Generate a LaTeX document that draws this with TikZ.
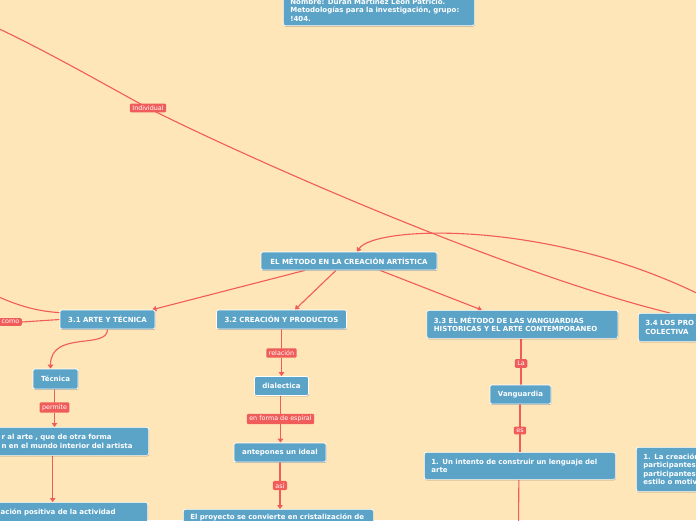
\documentclass[tikz,border=0pt]{standalone}
\usepackage{fontspec}
\setmainfont{DejaVu Sans}
\usetikzlibrary{arrows.meta,shadows}
\definecolor{bgc}{HTML}{FFE6B8}
\definecolor{nb}{HTML}{5BA4C8}
\definecolor{lr}{HTML}{F05C5A}
\pgfdeclarelayer{back}
\pgfdeclarelayer{lines}
\pgfsetlayers{back,lines,main}
\tikzset{
 box/.style={rectangle, rounded corners=2pt, fill=nb, draw=white, line width=0.7pt, text=white,
   font=\bfseries\fontsize{7}{8.5}\selectfont, inner xsep=7pt, inner ysep=4.5pt,
   drop shadow={shadow xshift=0.4pt, shadow yshift=-0.9pt, opacity=0.3, fill=black}},
 lbl/.style={rectangle, rounded corners=1.2pt, fill=lr, text=white,
   font=\fontsize{6.4}{7.5}\selectfont, inner xsep=2.5pt, inner ysep=2pt},
 con/.style={draw=lr, line width=1.1pt},
 arr/.style={con, -{Triangle[width=5.5pt,length=4pt]}},
}
\begin{document}
\begin{tikzpicture}[x=1pt,y=-1pt]
\useasboundingbox (0,0) rectangle (696,520);
\begin{pgfonlayer}{back}
\fill[bgc] (0,0) rectangle (696,520);
\end{pgfonlayer}
\clip (0,0) rectangle (696,520);
% nodes
\node[box, anchor=south west, text width=177pt, align=left] (top) at (283,26)
  {Nombre: Durán Martínez León Patricio.\\Metodologías para la investigación, grupo:\\!404.};
\node[box, minimum width=176pt, minimum height=18pt] (main) at (349,261) {EL MÉTODO EN LA CREACIÓN ARTÍSTICA};
\node[box, minimum width=95pt, minimum height=19pt] (a31) at (107.5,319.5) {3.1 ARTE Y TÉCNICA};
\node[box, minimum width=130pt, minimum height=19pt] (a32) at (281.5,319.5) {3.2 CREACIÓN Y PRODUCTOS};
\node[box, anchor=north west, text width=177pt, align=left, minimum height=28pt] (a33) at (426.5,310)
  {3.3 EL MÉTODO DE LAS VANGUARDIAS\\HISTORICAS Y EL ARTE CONTEMPORANEO};
\node[box, anchor=north west, text width=80pt, align=left, minimum height=28pt] (a34) at (638,313)
  {3.4 LOS PRO\\COLECTIVA};
\node[box, minimum width=45pt, minimum height=20pt] (tec) at (55.5,379) {Técnica};
\node[box, anchor=north east, text width=140pt, align=left, minimum height=28pt] (art) at (149,427)
  {r al arte , que de otra forma\\n en el mundo interior del artista};
\node[box, anchor=north east, text width=140pt, align=left, minimum height=20pt] (bl) at (148,502)
  {ación positiva de la actividad};
\node[box, minimum width=54pt, minimum height=19pt] (dia) at (281.5,386) {dialectica};
\node[box, minimum width=92pt, minimum height=19pt] (ant) at (280,452.5) {antepones un ideal};
\node[box, anchor=north west, text width=176pt, align=left, minimum height=16pt] (bot) at (183,509)
  {El proyecto se convierte en cristalización de};
\node[box, minimum width=61pt, minimum height=19pt] (vang) at (520.5,394.5) {Vanguardia};
\node[box, anchor=north west, text width=177pt, align=left, minimum height=27pt] (int) at (424,452)
  {1. Un intento de construir un lenguaje del\\arte};
\node[box, anchor=north west, text width=80pt, align=left, minimum height=44pt] (lacr) at (636,447)
  {1. La creación\\participantes\\participantes\\estilo o motiv};
% labels
\node[lbl, anchor=east] (como) at (22,322) {como};
\node[lbl] (ind) at (148,108) {Individual};
\node[lbl] (perm) at (54.5,407.5) {permite};
\node[lbl] (rel) at (281.5,353) {relación};
\node[lbl] (esp) at (280.5,419) {en forma de espiral};
\node[lbl] (asi) at (280,485.5) {así};
\node[lbl] (la) at (521,363.5) {La};
\node[lbl] (es) at (520,430.5) {es};
% free ends
\coordinate (indstart) at (-20,20);
\coordinate (loopstart) at (720,305);
\coordinate (lstart) at (-30,282);
\coordinate (intdown) at (518.5,530);
% connectors
\begin{pgfonlayer}{lines}
\clip (0,0) rectangle (696,520);
\draw[con] (indstart) .. controls (40,47) and (100,82) .. (ind.center);
\draw[con] (ind.center) .. controls (268,168) and (518,276) .. ([xshift=32pt]a34.north west);
\draw[arr] (loopstart) .. controls (560,218) and (375,225) .. ([xshift=8pt]main.north);
\draw[arr] ([xshift=-44pt]main.south) -- ([xshift=-3pt]a31.north east);
\draw[arr] ([xshift=-13pt]main.south) -- ([xshift=13.5pt]a32.north);
\draw[arr] ([xshift=31pt]main.south) -- ([xshift=-40.5pt]a33.north);
\draw[con] (lstart) .. controls (10,305) and (35,311) .. ([yshift=-3pt]a31.north west);
\draw[con] (a31.west) -- (como.east);
\draw[arr] (a31.south) .. controls (107.5,350) and (50.5,330) .. ([xshift=-5pt]tec.north);
\draw[con] (perm.center |- tec.south) -- (perm.center);
\draw[arr] (perm.south) -- (perm.south |- art.north);
\draw[arr] ([xshift=-19pt]art.south) -- ([xshift=-19pt]art.south |- bl.north);
\draw[con] (a32.south) -- (rel.center);
\draw[arr] (rel.south) -- (rel.south |- dia.north);
\draw[con] (esp.center |- dia.south) -- (esp.center);
\draw[arr] (esp.south) -- (esp.south |- ant.north);
\draw[con] (ant.south) -- (asi.center);
\draw[arr] (asi.south) -- (asi.south |- bot.north);
\draw[con] (la.center |- a33.south) -- (la.center |- vang.north);
\draw[con] (es.center |- vang.south) -- (es.center |- int.north);
\draw[con] ([xshift=-1pt]int.south) -- (intdown);
\end{pgfonlayer}
\end{tikzpicture}
\end{document}
